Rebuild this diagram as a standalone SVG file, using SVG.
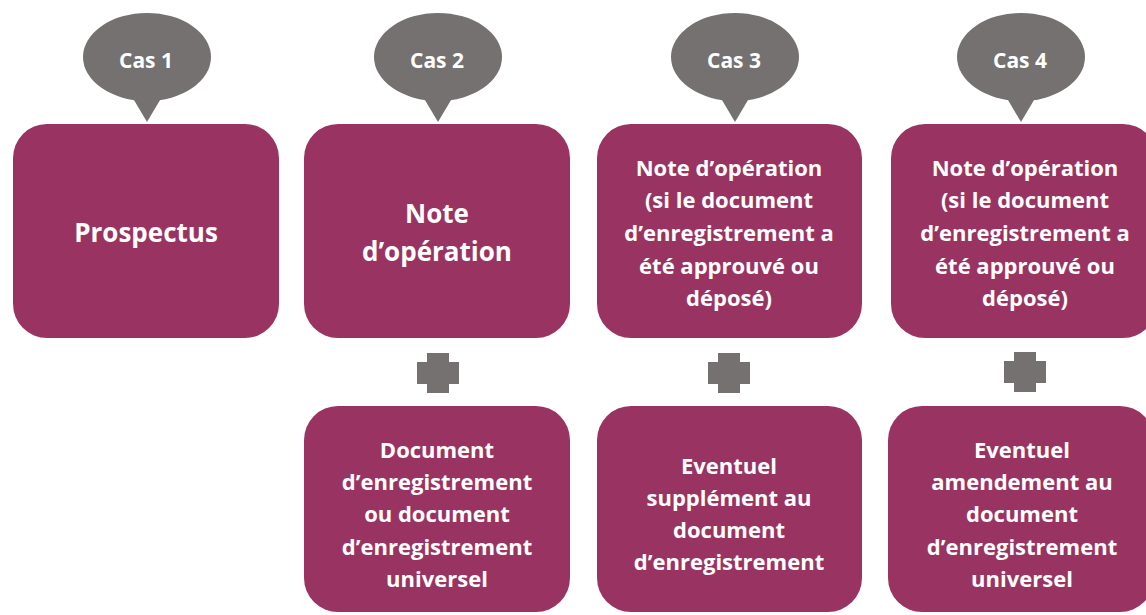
<svg xmlns="http://www.w3.org/2000/svg" width="1146" height="615" viewBox="0 0 1146 615">
<style>
.box{fill:#993462}
.bub{fill:#747170}
.t{font-family:"Open Sans","Liberation Sans",sans-serif;font-weight:bold;fill:#ffffff;text-anchor:middle}
.s{font-size:22px}
.l{font-size:26px}
.c{font-size:21px}
</style>
<defs>
<g id="bubble"><ellipse cx="0" cy="0" rx="64" ry="44"/><path d="M-16,38 L0,65 L16,38 Z"/></g>
<path id="plus" d="M-11,-20 H11 V-11 H21 V11 H11 V20 H-11 V11 H-21 V-11 H-11 Z"/>
</defs>
<rect width="1146" height="615" fill="#ffffff"/>
<g id="cas1">
<use href="#bubble" class="bub" x="147" y="57"/>
<text class="t c" x="146" y="68">Cas 1</text>
</g>
<g id="cas2">
<use href="#bubble" class="bub" x="438" y="57"/>
<text class="t c" x="437" y="68">Cas 2</text>
</g>
<g id="cas3">
<use href="#bubble" class="bub" x="735" y="57"/>
<text class="t c" x="734" y="68">Cas 3</text>
</g>
<g id="cas4">
<use href="#bubble" class="bub" x="1021" y="57"/>
<text class="t c" x="1020" y="68">Cas 4</text>
</g>
<g id="prospectus">
<rect class="box" x="13" y="124" width="266" height="214" rx="34"/>
<text class="t l" x="146" y="242">Prospectus</text>
</g>
<g id="note2">
<rect class="box" x="304" y="124" width="266" height="214" rx="34"/>
<text class="t l" x="437" y="223">Note</text>
<text class="t l" x="437" y="261">d’opération</text>
</g>
<g id="note3">
<rect class="box" x="597" y="124" width="265" height="214" rx="34"/>
<text class="t s" x="729" y="176">Note d’opération</text>
<text class="t s" x="729" y="208">(si le document</text>
<text class="t s" x="729" y="241">d’enregistrement a</text>
<text class="t s" x="729" y="274">été approuvé ou</text>
<text class="t s" x="729" y="306">déposé)</text>
</g>
<g id="note4">
<rect class="box" x="891" y="124" width="266" height="214" rx="34"/>
<text class="t s" x="1025" y="176">Note d’opération</text>
<text class="t s" x="1025" y="208">(si le document</text>
<text class="t s" x="1025" y="241">d’enregistrement a</text>
<text class="t s" x="1025" y="274">été approuvé ou</text>
<text class="t s" x="1025" y="306">déposé)</text>
</g>
<g id="connectors">
<use href="#plus" class="bub" x="438" y="373"/>
<use href="#plus" class="bub" x="729" y="373"/>
<use href="#plus" class="bub" x="1025" y="372"/>
</g>
<g id="doc2">
<rect class="box" x="304" y="406" width="266" height="206" rx="34"/>
<text class="t s" x="437" y="458">Document</text>
<text class="t s" x="437" y="490">d’enregistrement</text>
<text class="t s" x="437" y="522">ou document</text>
<text class="t s" x="437" y="555">d’enregistrement</text>
<text class="t s" x="437" y="587">universel</text>
</g>
<g id="doc3">
<rect class="box" x="597" y="406" width="265" height="206" rx="34"/>
<text class="t s" x="729" y="474">Eventuel</text>
<text class="t s" x="729" y="506">supplément au</text>
<text class="t s" x="729" y="538">document</text>
<text class="t s" x="729" y="570">d’enregistrement</text>
</g>
<g id="doc4">
<rect class="box" x="888" y="406" width="266" height="206" rx="34"/>
<text class="t s" x="1022" y="458">Eventuel</text>
<text class="t s" x="1022" y="490">amendement au</text>
<text class="t s" x="1022" y="522">document</text>
<text class="t s" x="1022" y="555">d’enregistrement</text>
<text class="t s" x="1022" y="587">universel</text>
</g>
</svg>
